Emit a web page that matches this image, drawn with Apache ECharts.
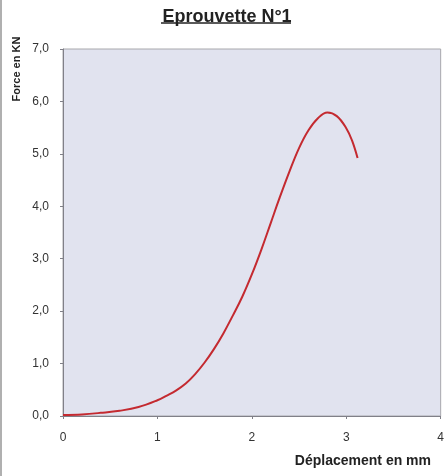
<!DOCTYPE html>
<html><head><meta charset="utf-8">
<script src="https://cdn.jsdelivr.net/npm/echarts@6/dist/echarts.min.js"></script>
<style>html,body{margin:0;padding:0;background:#fff}#c{width:447px;height:476px}</style>
</head><body><div id="c"></div>
<script>
const titleText = 'Eprouvette N°1';
const yName = 'Force en KN';
const xName = 'Déplacement en mm';
const displacement = [0, 0.2, 0.4, 0.6, 0.8, 1.0, 1.1, 1.2, 1.3, 1.4, 1.5, 1.6, 1.7, 1.8, 1.9, 2.0, 2.1, 2.2, 2.29, 2.4, 2.5, 2.6, 2.7, 2.8, 2.9, 3.0, 3.06, 3.12];
const force = [0.02, 0.03, 0.06, 0.10, 0.17, 0.30, 0.39, 0.49, 0.62, 0.80, 1.02, 1.28, 1.58, 1.92, 2.28, 2.70, 3.17, 3.68, 4.14, 4.67, 5.11, 5.45, 5.68, 5.79, 5.72, 5.49, 5.26, 4.92];
const xTicks = [0, 1, 2, 3, 4];
const yTicks = [0, 1, 2, 3, 4, 5, 6, 7];

const chart = echarts.init(document.getElementById('c'));
const font = '"Liberation Sans", Arial, sans-serif';
chart.setOption({
  backgroundColor: '#fff',
  animation: false,
  title: {
    text: titleText, left: 222, top: 3, textAlign: 'center',
    textStyle: {fontFamily: font, fontSize: 18, fontWeight: 'bold', color: '#222'}
  },
  grid: {left: 63, right: 4, top: 49, bottom: 60, show: true, backgroundColor: '#e1e3ef', borderColor: '#a8a8ac', borderWidth: 1},
  xAxis: {
    type: 'value', min: xTicks[0], max: xTicks[xTicks.length - 1], interval: 1,
    axisLine: {show: true, lineStyle: {color: '#808088'}},
    axisTick: {show: true, length: 3, lineStyle: {color: '#808088'}},
    splitLine: {show: false},
    axisLabel: {fontFamily: font, fontSize: 12, color: '#333', margin: 16}
  },
  yAxis: {
    type: 'value', min: yTicks[0], max: yTicks[yTicks.length - 1], interval: 1,
    axisLine: {show: true, lineStyle: {color: '#808088'}},
    axisTick: {show: true, length: 3, lineStyle: {color: '#808088'}},
    splitLine: {show: false},
    axisLabel: {fontFamily: font, fontSize: 12, color: '#333', margin: 14, formatter: v => v.toFixed(1).replace('.', ',')}
  },
  series: [{
    type: 'line', data: displacement.map((x, i) => [x, force[i]]),
    showSymbol: false, smooth: 0.4,
    lineStyle: {color: '#c42a30', width: 2}
  }],
  graphic: [
    {type: 'line', shape: {x1: 161, y1: 23, x2: 291, y2: 23}, style: {stroke: '#222', lineWidth: 1.3}},
    {type: 'text', x: 17, y: 69, rotation: Math.PI / 2,
     style: {text: yName, font: 'bold 11px ' + font, fill: '#222', textAlign: 'center', textVerticalAlign: 'middle'}},
    {type: 'text', x: 431, y: 461,
     style: {text: xName, font: 'bold 14px ' + font, fill: '#222', textAlign: 'right', textVerticalAlign: 'middle'}},
    {type: 'line', shape: {x1: 1, y1: 0, x2: 1, y2: 476}, style: {stroke: '#b0b0b0', lineWidth: 2}}
  ]
});
</script></body></html>
